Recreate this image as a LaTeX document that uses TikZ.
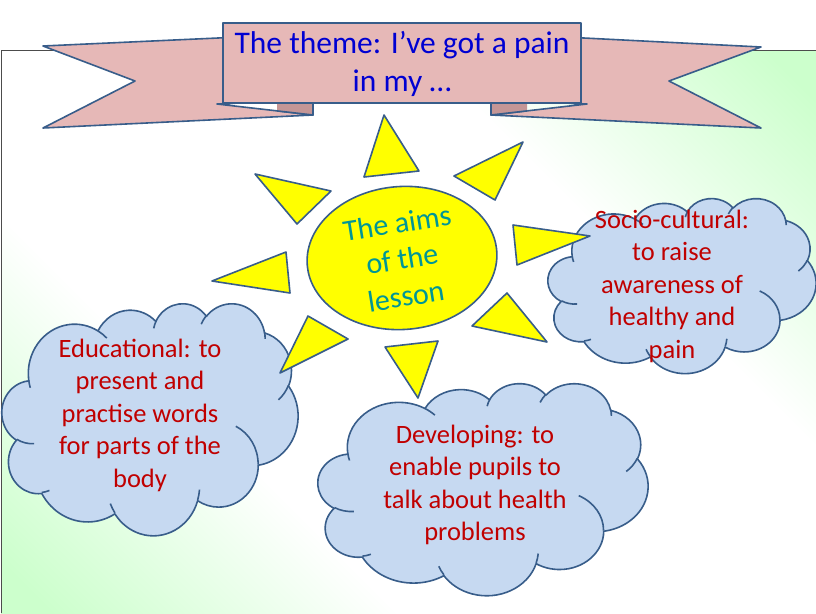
\documentclass[tikz,border=0pt]{standalone}
\usepackage{fontspec}
\setmainfont{Carlito}
\usetikzlibrary{shapes.geometric}
\definecolor{bggreen}{RGB}{204,255,204}
\definecolor{outl}{RGB}{56,93,138}
\definecolor{ribpink}{RGB}{230,184,183}
\definecolor{ribdark}{RGB}{196,150,150}
\definecolor{cloudblue}{RGB}{198,217,241}
\definecolor{sunyellow}{RGB}{255,255,0}
\definecolor{txtred}{RGB}{192,0,0}
\definecolor{txtblue}{RGB}{0,0,210}
\definecolor{txtteal}{RGB}{0,150,150}
\pgfdeclarehorizontalshading{bgsh}{100bp}{color(0bp)=(bggreen); color(17bp)=(bggreen); color(35bp)=(white); color(65bp)=(white); color(83bp)=(bggreen); color(100bp)=(bggreen)}
% DrawingML-style arcTo: x radius, y radius, start angle, sweep (visual angles)
\newcommand{\ooarc}[4]{arc[start angle={atan2(#1*sin(#3),#2*cos(#3))}, delta angle={mod(atan2(#1*sin(#3+#4),#2*cos(#3+#4))-atan2(#1*sin(#3),#2*cos(#3))+720,360)}, x radius=#1, y radius=#2]}
\newcommand{\oocloud}{(9.0278,33.2639)
 \ooarc{15.632}{21.273}{-190.4875}{123.7805}
 \ooarc{12.345}{16.822}{-144.1024}{89.9452}
 \ooarc{10.104}{13.762}{-145.8079}{99.7230}
 \ooarc{11.243}{15.266}{-130.9861}{117.2417}
 \ooarc{12.345}{16.836}{-78.7089}{109.0269}
 \ooarc{15.683}{21.343}{-46.2673}{130.2690}
 \ooarc{13.391}{18.211}{0.6250}{114.0333}
 \ooarc{15.630}{21.331}{22.4516}{115.1726}
 \ooarc{17.870}{24.405}{66.2426}{75.7110}
 \ooarc{10.093}{13.699}{-274.9421}{146.7356}
 \ooarc{10.058}{13.762}{-246.8285}{152.5189} -- cycle}
\newcommand{\oocloudinner}{
 (10.863,60.595) \ooarc{10.058}{13.762}{86.7420}{26.4295}
 (16.037,80.785) \ooarc{10.093}{13.699}{73.6105}{11.4475}
 (38.144,90.486) \ooarc{15.630}{21.331}{137.6242}{14.0811}
 (66.729,80.442) \ooarc{15.630}{21.331}{6.4533}{15.9984}
 (79.002,53.134) \ooarc{13.391}{18.211}{-70.2924}{70.9174}
 (96.755,35.542) \ooarc{12.345}{16.836}{30.3180}{27.7515}
 (88.713,12.560) \ooarc{11.243}{15.266}{-13.7443}{14.8604}
 (67.310,9.148) \ooarc{11.243}{15.266}{-149.1815}{18.1959}
 (51.252,10.926) \ooarc{10.104}{13.762}{-163.4943}{17.6864}
 (32.407,12.019) \ooarc{15.632}{21.273}{-66.7070}{12.3194}
 (9.553,36.549) \ooarc{15.632}{21.273}{157.6544}{11.8582}}
\begin{document}
\begin{tikzpicture}[x=1pt,y=-1pt, line join=round,
  outline/.style={draw=outl, line width=1.6pt},
  ribbonpart/.style={outline, fill=ribpink},
  ray/.style={outline, fill=sunyellow},
  cloudfill/.style={outline, fill=cloudblue},
  cloudtext/.style={align=center, text=txtred, font=\fontsize{26.5}{32.5}\selectfont},
  suntext/.style={text=txtteal, font=\fontsize{30}{36}\selectfont, rotate=9, inner sep=0pt},
]
\useasboundingbox (0,0) rectangle (816,613);
\fill[white] (0,0) rectangle (816,613);
\shade[shading=bgsh, shading angle=45] (1,50) rectangle (816,613);
\draw[black!70, line width=0.8pt] (1,613) -- (1,50) -- (816,50);

% ribbon tails
\filldraw[ribbonpart] (43,46) -- (240,37) -- (240,103) -- (217,104) -- (313,115) -- (43,128) -- (135,81) -- cycle;
\fill[ribdark] (277,103) -- (313,103) -- (313,115) -- (277,110.9) -- cycle;
\draw[outline] (313,103) -- (313,115) -- (277,110.9);
\filldraw[ribbonpart] (761,47) -- (564,37) -- (564,103) -- (587,104) -- (491,115) -- (761,128) -- (669,81) -- cycle;
\fill[ribdark] (527,103) -- (491,103) -- (491,115) -- (527,110.9) -- cycle;
\draw[outline] (491,103) -- (491,115) -- (527,110.9);
% ribbon box
\node[ribbonpart, minimum width=358pt, minimum height=80pt, inner sep=0pt] (box) at (402,63) {};
\node[font=\fontsize{31.5}{38}\selectfont, text=txtblue, align=center] (theme) at (402,64) {The theme: I’ve got a pain\\in my …};

% clouds
\begin{scope}[shift={(2,303)}, xscale=2.96, yscale=2.32]
  \filldraw[cloudfill] \oocloud;
  \draw[outline] \oocloudinner;
\end{scope}
\begin{scope}[shift={(548,198)}, xscale=2.68, yscale=1.75]
  \filldraw[cloudfill] \oocloud;
  \draw[outline] \oocloudinner;
\end{scope}
\begin{scope}[shift={(318,383)}, xscale=3.30, yscale=2.12]
  \filldraw[cloudfill] \oocloud;
  \draw[outline] \oocloudinner;
\end{scope}

% sun
\node[ellipse, ray, minimum width=190pt, minimum height=143pt, rotate=4, inner sep=0pt] (sun) at (402,258) {};
\filldraw[ray] (384,115) -- (419,171) -- (364,177) -- cycle;
\filldraw[ray] (523,142) -- (495,200) -- (454,176) -- cycle;
\filldraw[ray] (513,225) -- (590,236) -- (517,265) -- cycle;
\filldraw[ray] (507,293) -- (547,342) -- (472,326) -- cycle;
\filldraw[ray] (385,347) -- (438,341) -- (418,398) -- cycle;
\filldraw[ray] (348,339) -- (280,373) -- (308,316) -- cycle;
\filldraw[ray] (286,252) -- (290,293) -- (212,281) -- cycle;
\filldraw[ray] (255,174) -- (331,191) -- (297,224) -- cycle;
\node[suntext] (aims1) at (397,223) {The aims};
\node[suntext] (aims2) at (402,259) {of the};
\node[suntext] (aims3) at (406,296) {lesson};

% cloud texts
\node[cloudtext] (educt) at (140,415) {Educational: to\\present and\\practise words\\for parts of the\\body};
\node[cloudtext] (sociot) at (672,286) {Socio-cultural:\\to raise\\awareness of\\healthy and\\pain};
\node[cloudtext] (develt) at (475,485) {Developing: to\\enable pupils to\\talk about health\\problems};
\end{tikzpicture}
\end{document}
